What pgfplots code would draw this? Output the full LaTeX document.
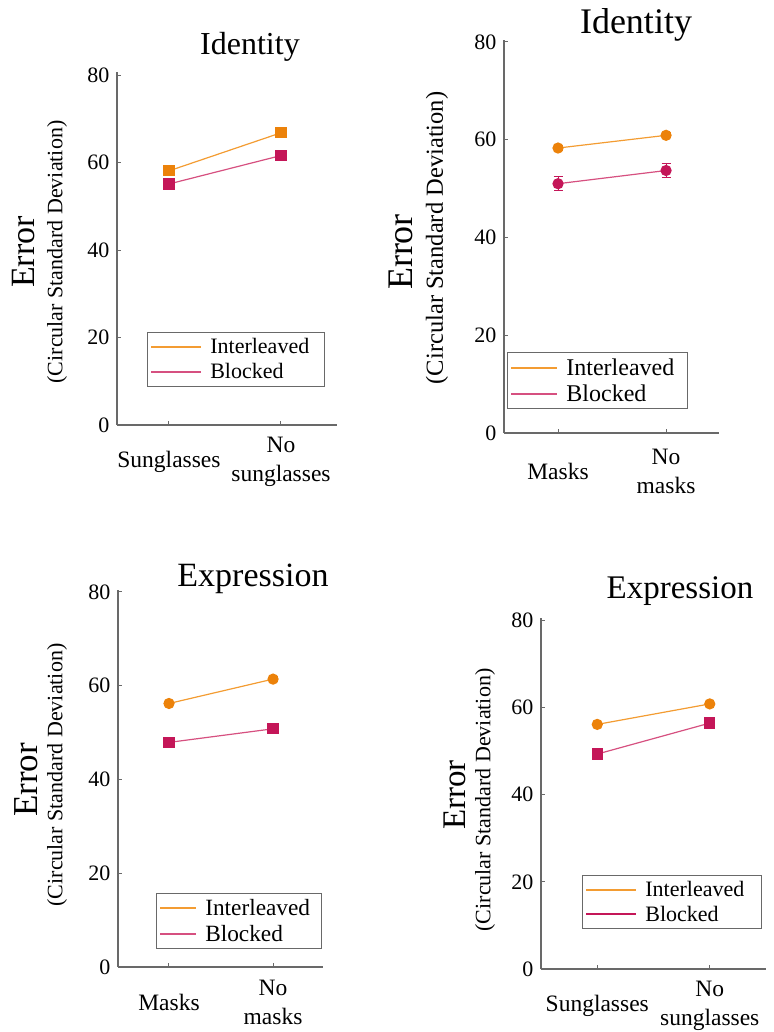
\documentclass[border=0pt]{standalone}
\usepackage{fontspec}
\setmainfont{Liberation Serif}
\usepackage{pgfplots}
\pgfplotsset{compat=1.18}

\definecolor{orL}{RGB}{243,156,50}
\definecolor{orM}{RGB}{236,130,10}
\definecolor{pkL}{RGB}{214,80,128}
\definecolor{pkM}{RGB}{196,22,88}
\definecolor{axc}{RGB}{105,105,105}

\pgfplotsset{
  panel/.style={scale only axis, axis x line=bottom, axis y line=left,
    axis line style={-, axc, line width=1.2pt},
    tick style={axc, line width=1pt}, tick align=inside, major tick length=4pt,
    xtick={0,1}, ytick={0,20,40,60,80}, ymin=0, clip=false,
    /pgf/number format/assume math mode=true,
    yticklabel style={font=\fontsize{22}{28}\selectfont, xshift=-4pt},
    xticklabel style={font=\fontsize{23.5}{29}\selectfont, anchor=center, align=center},
    anchor=south west, legend cell align=left,
    legend style={draw=axc, line width=0.8pt, anchor=north west,
      font=\fontsize{22}{24}\selectfont, row sep=4pt, column sep=6pt,
      inner xsep=3pt, inner ysep=4pt, nodes={inner sep=2pt}},
  },
  orS/.style={color=orL, line width=1.2pt, forget plot,
    mark options={draw=orM, fill=orM, solid},
    error bars/y dir=both, error bars/y explicit,
    error bars/error bar style={orM, line width=1pt},
    error bars/error mark options={rotate=90, orM, mark size=4.5pt, line width=1pt}},
  pkS/.style={color=pkL, line width=1.2pt, forget plot,
    mark options={draw=pkM, fill=pkM, solid},
    error bars/y dir=both, error bars/y explicit,
    error bars/error bar style={pkM, line width=1pt},
    error bars/error mark options={rotate=90, pkM, mark size=4.5pt, line width=1pt}},
}

\begin{document}
\begin{tikzpicture}
\useasboundingbox (0,0) rectangle (773pt,-1032pt);

% ---------------- Panel 1 ----------------
\begin{axis}[panel, at={(117pt,-425pt)}, width=220pt, height=353pt,
  xmin=-0.464, xmax=1.5, ymax=80.7,
  xticklabels={Sunglasses,{No\\sunglasses}},
  xticklabel style={yshift=-37pt},
  legend style={at={(0.136,0.263)}},
  legend image code/.code={\draw[#1] (0pt,0pt) -- (50pt,0pt);}]
\addlegendimage{draw=orL, line width=2pt}\addlegendentry{Interleaved\rule{10pt}{0pt}}
\addlegendimage{draw=pkL, line width=2pt}\addlegendentry{Blocked}
\addplot[mark=square*, mark size=5pt, orS] coordinates {(0,58.1) +- (0,0.9) (1,66.8) +- (0,0.9)};
\addplot[mark=square*, mark size=5pt, pkS] coordinates {(0,55.1) +- (0,0.6) (1,61.6) +- (0,0.7)};
\end{axis}

% ---------------- Panel 2 ----------------
\begin{axis}[panel, at={(504pt,-433pt)}, width=215pt, height=393pt,
  xmin=-0.5, xmax=1.49, ymax=80.4,
  xticklabels={Masks,{No\\masks}},
  xticklabel style={yshift=-38pt},
  legend style={at={(0.014,0.206)}, font=\fontsize{24}{26}\selectfont},
  legend image code/.code={\draw[#1] (0pt,0pt) -- (46pt,0pt);}]
\addlegendimage{draw=orL, line width=2pt}\addlegendentry{Interleaved\rule{8pt}{0pt}}
\addlegendimage{draw=pkL, line width=2pt}\addlegendentry{Blocked}
\addplot[mark=*, mark size=5pt, orS] coordinates {(0,58.3) +- (0,0.5) (1,60.9) +- (0,0.5)};
\addplot[mark=*, mark size=5pt, pkS] coordinates {(0,51.0) +- (0,1.4) (1,53.7) +- (0,1.4)};
\end{axis}

% ---------------- Panel 3 ----------------
\begin{axis}[panel, at={(118pt,-967pt)}, width=205pt, height=377pt,
  xmin=-0.49, xmax=1.48, ymax=80.4,
  xticklabels={Masks,{No\\masks}},
  xticklabel style={yshift=-35pt},
  legend style={at={(0.185,0.196)}, font=\fontsize{23.3}{25}\selectfont},
  legend image code/.code={\draw[#1] (0pt,0pt) -- (36pt,0pt);}]
\addlegendimage{draw=orL, line width=2pt}\addlegendentry{Interleaved\rule{6pt}{0pt}}
\addlegendimage{draw=pkL, line width=2pt}\addlegendentry{Blocked}
\addplot[mark=*, mark size=5pt, orS] coordinates {(0,56.2) +- (0,0.5) (1,61.4) +- (0,0.5)};
\addplot[mark=square*, mark size=5pt, pkS] coordinates {(0,47.9) +- (0,0.5) (1,50.8) +- (0,0.5)};
\end{axis}

% ---------------- Panel 4 ----------------
\begin{axis}[panel, at={(541pt,-969pt)}, width=225pt, height=351pt,
  xmin=-0.5, xmax=1.5, ymax=80.5,
  xticklabels={Sunglasses,{No\\sunglasses}},
  xticklabel style={yshift=-37pt},
  legend style={at={(0.182,0.268)}},
  legend image code/.code={\draw[#1] (0pt,0pt) -- (50pt,0pt);}]
\addlegendimage{draw=orL, line width=2pt}\addlegendentry{Interleaved\rule{12pt}{0pt}}
\addlegendimage{draw=pkM, line width=2pt}\addlegendentry{Blocked}
\addplot[mark=*, mark size=5pt, orS] coordinates {(0,56.1) +- (0,0.5) (1,60.8) +- (0,0.5)};
\addplot[mark=square*, mark size=5pt, pkS] coordinates {(0,49.3) +- (0,0.5) (1,56.4) +- (0,0.5)};
\end{axis}

% ---------------- Titles ----------------
\node[anchor=base, font=\fontsize{32}{32}\selectfont] at (250pt,-55pt) {Identity};
\node[anchor=base, font=\fontsize{36}{36}\selectfont] at (636pt,-34pt) {Identity};
\node[anchor=base, font=\fontsize{34}{34}\selectfont] at (253pt,-586pt) {Expression};
\node[anchor=base, font=\fontsize{33}{33}\selectfont] at (680pt,-598pt) {Expression};

% ---------------- Y labels ----------------
\node[rotate=90, font=\fontsize{34}{34}\selectfont] at (24pt,-252pt) {Error};
\node[rotate=90, font=\fontsize{22}{22}\selectfont] at (57pt,-252pt) {(Circular Standard Deviation)};
\node[rotate=90, font=\fontsize{36}{36}\selectfont] at (401pt,-252pt) {Error};
\node[rotate=90, font=\fontsize{24.5}{24.5}\selectfont] at (437pt,-238pt) {(Circular Standard Deviation)};
\node[rotate=90, font=\fontsize{35}{35}\selectfont] at (26pt,-780pt) {Error};
\node[rotate=90, font=\fontsize{22}{22}\selectfont] at (57pt,-775pt) {(Circular Standard Deviation)};
\node[rotate=90, font=\fontsize{33}{33}\selectfont] at (455pt,-795pt) {Error};
\node[rotate=90, font=\fontsize{22}{22}\selectfont] at (485pt,-800pt) {(Circular Standard Deviation)};
\end{tikzpicture}
\end{document}
